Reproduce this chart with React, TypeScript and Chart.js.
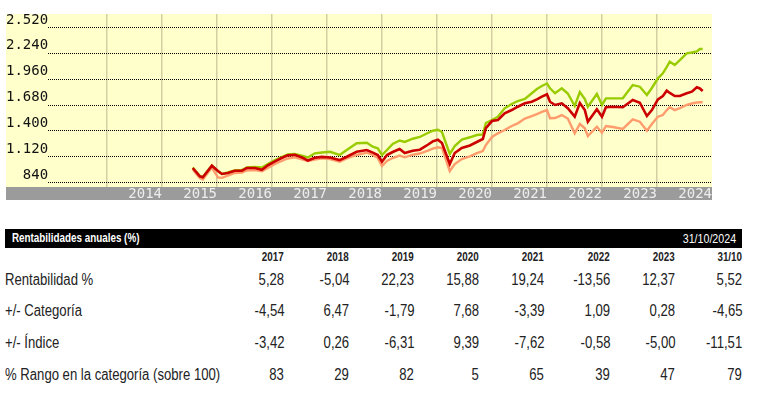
import React, { useEffect, useRef } from 'react';
import { Chart, registerables } from 'chart.js';

Chart.register(...registerables);

// ---------- chart data ----------
const dates = [
  '2015-07-24', '2015-09-09', '2015-09-29', '2015-11-28',
  '2016-01-07', '2016-02-03', '2016-03-13', '2016-04-28', '2016-06-14', '2016-07-17', '2016-09-09', '2016-10-26', '2016-12-04',
  '2017-01-21', '2017-03-06', '2017-04-15', '2017-06-01', '2017-07-24', '2017-08-27', '2017-10-12', '2017-11-28',
  '2018-01-21', '2018-03-26', '2018-05-12', '2018-07-17', '2018-09-22', '2018-11-01', '2018-12-04',
  '2019-01-01', '2019-02-03', '2019-03-13', '2019-04-28', '2019-06-01', '2019-07-24', '2019-09-09', '2019-11-01', '2019-12-04',
  '2020-01-07', '2020-02-03', '2020-03-26', '2020-04-28', '2020-06-14', '2020-08-07', '2020-09-22', '2020-11-01', '2020-11-21',
  '2021-01-01', '2021-02-09', '2021-03-26', '2021-05-12', '2021-06-21', '2021-08-07', '2021-09-22', '2021-10-26', '2021-11-28',
  '2022-01-01', '2022-01-21', '2022-02-23', '2022-04-09', '2022-05-19', '2022-07-04', '2022-08-07', '2022-09-09', '2022-09-29', '2022-11-28',
  '2023-01-01', '2023-01-27', '2023-03-13', '2023-05-19', '2023-07-24', '2023-09-09', '2023-10-26', '2023-11-28',
  '2024-01-07', '2024-02-09', '2024-03-06', '2024-03-26', '2024-04-28', '2024-06-01', '2024-07-17', '2024-08-20', '2024-09-22', '2024-10-12', '2024-10-31',
];

// Fondo (rojo)
const fundValues = [
  992, 902, 891, 1017,
  959, 927, 938, 962, 962, 992, 992, 973, 1021,
  1064, 1100, 1129, 1136, 1103, 1073, 1103, 1112,
  1106, 1078, 1114, 1168, 1187, 1158, 1133,
  1060, 1133, 1165, 1198, 1154, 1179, 1190, 1244, 1281,
  1299, 1263, 1035, 1154, 1209, 1236, 1274, 1306, 1425,
  1501, 1512, 1585, 1620, 1656, 1693, 1710, 1736, 1765,
  1791, 1710, 1675, 1693, 1639, 1548, 1696, 1620, 1494, 1628,
  1548, 1650, 1656, 1650, 1729, 1700, 1555, 1620,
  1736, 1772, 1830, 1805, 1772, 1772, 1802, 1819, 1867, 1854, 1826,
];

// Índice (verde)
const indexValues = [
  997, 905, 894, 1019,
  959, 927, 943, 965, 970, 997, 1003, 997, 1035,
  1078, 1111, 1138, 1144, 1122, 1106, 1151, 1160,
  1168, 1133, 1187, 1260, 1266, 1223, 1205,
  1133, 1187, 1252, 1290, 1274, 1309, 1328, 1371, 1396,
  1407, 1382, 1144, 1230, 1299, 1325, 1349, 1355, 1480,
  1512, 1548, 1639, 1686, 1718, 1740, 1802, 1848, 1881,
  1908, 1856, 1802, 1856, 1799, 1664, 1816, 1740, 1656, 1794,
  1675, 1747, 1747, 1747, 1891, 1873, 1783, 1859,
  1964, 2018, 2087, 2144, 2108, 2162, 2235, 2244, 2255, 2282, 2282,
];

// Categoría (salmón)
const categoryValues = [
  976, 883, 867, 997,
  890, 885, 910, 938, 943, 965, 970, 956, 992,
  1035, 1068, 1095, 1108, 1084, 1068, 1084, 1097,
  1089, 1060, 1095, 1133, 1158, 1133, 1100,
  1013, 1068, 1100, 1127, 1108, 1136, 1149, 1181, 1203,
  1216, 1209, 959, 1035, 1089, 1119, 1154, 1176, 1241,
  1328, 1368, 1404, 1447, 1476, 1528, 1555, 1577, 1599,
  1620, 1531, 1534, 1566, 1528, 1368, 1469, 1422, 1339, 1439,
  1374, 1447, 1436, 1415, 1520, 1494, 1396, 1469,
  1548, 1566, 1620, 1650, 1620, 1642, 1675, 1691, 1702, 1704, 1704,
];

const yTickValues = [840, 1120, 1400, 1680, 1960, 2240, 2520];
const yearTicks = [2014, 2015, 2016, 2017, 2018, 2019, 2020, 2021, 2022, 2023, 2024, 2025];
const yearLabels = ['2014', '2015', '2016', '2017', '2018', '2019', '2020', '2021', '2022', '2023', '2024'];

const X_MIN = 2012.1636;
const X_MAX = 2025;
const Y_MIN = 786;
const Y_MAX = 2661;

// ---------- table data ----------
const tableTitle = 'Rentabilidades anuales (%)';
const tableDate = '31/10/2024';
const tableColumns = ['2017', '2018', '2019', '2020', '2021', '2022', '2023', '31/10'];
const rowLabels = ['Rentabilidad %', '+/- Categoría', '+/- Índice', '% Rango en la categoría (sobre 100)'];
const rentabilidad = ['5,28', '-5,04', '22,23', '15,88', '19,24', '-13,56', '12,37', '5,52'];
const vsCategoria = ['-4,54', '6,47', '-1,79', '7,68', '-3,39', '1,09', '0,28', '-4,65'];
const vsIndice = ['-3,42', '0,26', '-6,31', '9,39', '-7,62', '-0,58', '-5,00', '-11,51'];
const rangoCategoria = ['83', '29', '82', '5', '65', '39', '47', '79'];

// ---------- helpers ----------
const toDecimalYear = (d: string): number => {
  const [y, m, day] = d.split('-').map(Number);
  const start = Date.UTC(y, 0, 1);
  const end = Date.UTC(y + 1, 0, 1);
  return y + (Date.UTC(y, m - 1, day) - start) / (end - start);
};

const formatThousands = (v: number): string =>
  String(Math.round(v)).replace(/\B(?=(\d{3})+(?!\d))/g, '.');

const TICK_FONT_FAMILY = '"DejaVu Sans Mono", monospace';
const TICK_FONT_SIZE = 14;

const panelPlugin = {
  id: 'panelPlugin',
  beforeDraw(chart: any) {
    const { ctx, chartArea } = chart;
    const { left, right, top, bottom } = chartArea;
    ctx.save();
    ctx.fillStyle = '#FFFFCC';
    ctx.fillRect(left, top, right - left, bottom - top);
    ctx.fillStyle = '#9B9B9B';
    ctx.fillRect(left, bottom, right - left, 13);
    ctx.restore();
  },
  beforeDatasetsDraw(chart: any) {
    const { ctx, chartArea } = chart;
    const yScale = chart.scales.y;
    ctx.save();
    ctx.font = `${TICK_FONT_SIZE}px ${TICK_FONT_FAMILY}`;
    const widest = Math.max(...yTickValues.map((v) => ctx.measureText(formatThousands(v)).width));
    const startX = Math.round(chartArea.left + widest);
    ctx.strokeStyle = '#000000';
    ctx.lineWidth = 1;
    ctx.setLineDash([1, 1]);
    yTickValues.forEach((v) => {
      const py = Math.round(yScale.getPixelForValue(v)) + 0.5;
      ctx.beginPath();
      ctx.moveTo(startX, py);
      ctx.lineTo(chartArea.right, py);
      ctx.stroke();
    });
    ctx.restore();
  },
};

const makeSeries = (values: number[]) =>
  dates.map((d, i) => ({ x: toDecimalYear(d), y: values[i] }));

const ChartPanel: React.FC = () => {
  const canvasRef = useRef<HTMLCanvasElement | null>(null);

  useEffect(() => {
    if (!canvasRef.current) return;
    const chart = new Chart(canvasRef.current, {
      type: 'line',
      data: {
        datasets: [
          {
            label: 'Fondo',
            data: makeSeries(fundValues),
            borderColor: '#CC0000',
            borderWidth: 2.6,
            pointRadius: 0,
            tension: 0,
            fill: false,
          },
          {
            label: 'Índice',
            data: makeSeries(indexValues),
            borderColor: '#99CC00',
            borderWidth: 2.4,
            pointRadius: 0,
            tension: 0,
            fill: false,
          },
          {
            label: 'Categoría',
            data: makeSeries(categoryValues),
            borderColor: '#FF9C6E',
            borderWidth: 2.4,
            pointRadius: 0,
            tension: 0,
            fill: false,
          },
        ],
      },
      options: {
        animation: false,
        responsive: false,
        maintainAspectRatio: false,
        layout: { padding: { left: 6, right: 48, top: 14, bottom: 4 } },
        plugins: {
          legend: { display: false },
          tooltip: { enabled: false },
        },
        scales: {
          x: {
            type: 'linear',
            min: X_MIN,
            max: X_MAX,
            afterBuildTicks: (axis: any) => {
              axis.ticks = yearTicks.map((v) => ({ value: v }));
            },
            grid: {
              drawTicks: false,
              lineWidth: 1.5,
              color: (ctx: any) => (ctx.tick && ctx.tick.value === X_MAX ? 'rgba(0,0,0,0)' : '#D3CFA2'),
            },
            border: { display: false },
            ticks: {
              autoSkip: false,
              maxRotation: 0,
              align: 'end',
              padding: 0,
              color: '#EDEDED',
              font: { family: TICK_FONT_FAMILY, size: TICK_FONT_SIZE, lineHeight: 1 },
              callback: (value: any) => {
                const i = yearTicks.indexOf(Number(value));
                return i > 0 ? yearLabels[i - 1] : '';
              },
            },
          },
          y: {
            type: 'linear',
            min: Y_MIN,
            max: Y_MAX,
            afterBuildTicks: (axis: any) => {
              axis.ticks = yTickValues.map((v) => ({ value: v }));
            },
            grid: { display: false, drawTicks: false },
            border: { display: false },
            ticks: {
              autoSkip: false,
              mirror: true,
              crossAlign: 'far',
              padding: 0,
              labelOffset: -7,
              color: '#111111',
              font: { family: TICK_FONT_FAMILY, size: TICK_FONT_SIZE, lineHeight: 1 },
              callback: (value: any) => formatThousands(Number(value)),
            },
          },
        },
      } as any,
      plugins: [panelPlugin],
    });
    return () => chart.destroy();
  }, []);

  return (
    <canvas
      ref={canvasRef}
      width={760}
      height={205}
      style={{ position: 'absolute', left: 0, top: 0, width: 760, height: 205 }}
    />
  );
};

const colRight = [284, 349, 414, 479, 544, 610, 675, 742];
const rowCenters = [280, 311, 343, 375];
const rowValues = [rentabilidad, vsCategoria, vsIndice, rangoCategoria];

const SANS = '"Liberation Sans", Arial, sans-serif';
const SQUEEZE = 0.82;

const Narrow: React.FC<{ origin: 'left' | 'right'; children: React.ReactNode }> = ({ origin, children }) => (
  <span
    style={{
      display: 'inline-block',
      transform: `scaleX(${SQUEEZE})`,
      transformOrigin: `${origin} center`,
      whiteSpace: 'nowrap',
    }}
  >
    {children}
  </span>
);

const App: React.FC = () => {
  const cell = (text: string, right: number, center: number, extra: React.CSSProperties, key: string) => (
    <div
      key={key}
      style={{
        position: 'absolute',
        right: 760 - right,
        top: center - 10,
        height: 20,
        lineHeight: '20px',
        whiteSpace: 'nowrap',
        textAlign: 'right',
        ...extra,
      }}
    >
      <Narrow origin="right">{text}</Narrow>
    </div>
  );

  return (
    <div
      style={{
        position: 'absolute',
        left: 0,
        top: 0,
        width: 760,
        height: 396,
        background: '#FFFFFF',
        overflow: 'hidden',
        fontFamily: SANS,
      }}
    >
      <ChartPanel />

      {/* header bar */}
      <div
        style={{
          position: 'absolute',
          left: 5,
          top: 229,
          width: 737,
          height: 19,
          background: '#000000',
        }}
      >
        <div
          style={{
            position: 'absolute',
            left: 7,
            top: 0,
            lineHeight: '19px',
            color: '#FFFFFF',
            fontWeight: 'bold',
            fontSize: 12,
            whiteSpace: 'nowrap',
          }}
        >
          <Narrow origin="left">{tableTitle}</Narrow>
        </div>
        <div
          style={{
            position: 'absolute',
            right: 6,
            top: 0,
            lineHeight: '19px',
            color: '#FFFFFF',
            fontSize: 13,
            whiteSpace: 'nowrap',
          }}
        >
          <Narrow origin="right">{tableDate}</Narrow>
        </div>
      </div>

      {/* column headers */}
      {tableColumns.map((c, i) =>
        cell(c, colRight[i], 257, { fontWeight: 'bold', fontSize: 12, color: '#222222' }, `h${i}`)
      )}

      {/* rows */}
      {rowLabels.map((label, r) => (
        <div
          key={`l${r}`}
          style={{
            position: 'absolute',
            left: 5,
            top: rowCenters[r] - 10,
            height: 20,
            lineHeight: '20px',
            whiteSpace: 'nowrap',
            fontSize: 16,
            color: '#222222',
          }}
        >
          <Narrow origin="left">{label}</Narrow>
        </div>
      ))}
      {rowValues.map((vals, r) =>
        vals.map((v, i) => cell(v, colRight[i], rowCenters[r], { fontSize: 16, color: '#222222' }, `v${r}-${i}`))
      )}
    </div>
  );
};

export default App;
